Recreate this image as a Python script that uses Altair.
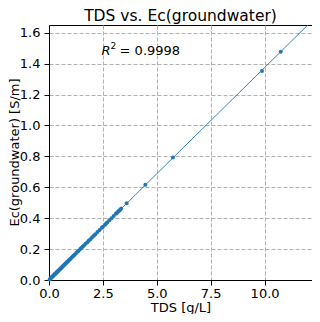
import altair as alt
import pandas as pd

# TDS [g/L] and Ec(groundwater) [S/m]
tds = [0.03, 0.05, 0.08, 0.10, 0.12, 0.15, 0.18, 0.20, 0.22, 0.25, 0.28, 0.30,
       0.33, 0.35, 0.38, 0.40, 0.42, 0.45, 0.48, 0.50, 0.53, 0.55, 0.58, 0.60,
       0.63, 0.66, 0.70, 0.73, 0.76, 0.80, 0.84, 0.88, 0.92, 0.96, 1.00, 1.05,
       1.10, 1.15, 1.20, 1.26, 1.32, 1.38, 1.45, 1.50, 1.56, 1.62, 1.70, 1.78,
       1.85, 1.92, 2.00, 2.08, 2.15, 2.25, 2.35, 2.45, 2.50, 2.60, 2.65, 2.70,
       2.80, 2.90, 3.00, 3.10, 3.15, 3.20, 3.25, 3.30, 3.35, 3.60, 4.47, 5.75,
       9.88, 10.75]
ec = [0.004, 0.007, 0.011, 0.014, 0.017, 0.021, 0.025, 0.028, 0.030, 0.035, 0.039, 0.041,
      0.046, 0.048, 0.053, 0.055, 0.058, 0.062, 0.066, 0.069, 0.073, 0.076, 0.080, 0.083,
      0.087, 0.091, 0.097, 0.101, 0.105, 0.110, 0.116, 0.121, 0.127, 0.132, 0.138, 0.145,
      0.152, 0.158, 0.165, 0.174, 0.182, 0.190, 0.200, 0.207, 0.215, 0.223, 0.234, 0.245,
      0.255, 0.264, 0.276, 0.287, 0.296, 0.310, 0.324, 0.338, 0.345, 0.358, 0.366, 0.372,
      0.386, 0.400, 0.414, 0.428, 0.434, 0.442, 0.448, 0.455, 0.462, 0.497, 0.617, 0.793,
      1.352, 1.477]

x_ticks = [0, 2.5, 5, 7.5, 10]
y_ticks = [0, 0.2, 0.4, 0.6, 0.8, 1.0, 1.2, 1.4, 1.6]
x_domain = [0, 12.2]
y_domain = [0, 1.65]
r2_text = "= 0.9998"
ann_x = [2.44]
ann_y = [1.48]

df = pd.DataFrame({"tds": tds, "ec": ec})
ann = pd.DataFrame({"x": ann_x, "y": ann_y})

FONT = "DejaVu Sans"
BLUE = "#1f77b4"

xs = alt.Scale(domain=x_domain, nice=False, zero=False)
ys = alt.Scale(domain=y_domain, nice=False, zero=False)

axis_common = dict(
    grid=True, gridDash=[4, 2], gridColor="#b0b0b0", gridWidth=1,
    domainColor="black", domainWidth=1,
    tickColor="black", tickSize=5, tickWidth=1,
    labelFont=FONT, labelFontSize=13, labelColor="black",
    titleFont=FONT, titleFontSize=13, titleColor="black", titleFontWeight="normal",
    format=".1f", labelOverlap=False, labelFlush=False,
)

xax = alt.Axis(title="TDS [g/L]", values=x_ticks, titleBaseline="alphabetic",
               titleY=31, labelPadding=2, **axis_common)
yax = alt.Axis(title="Ec(groundwater) [S/m]", values=y_ticks, titleBaseline="middle",
               titleAngle=270, titleX=-35, titleY=127, titleAlign="center",
               labelPadding=4, **axis_common)


def enc(xf, yf):
    return dict(x=alt.X(xf, scale=xs, axis=xax, title="TDS [g/L]"),
                y=alt.Y(yf, scale=ys, axis=yax, title="Ec(groundwater) [S/m]"))


points = alt.Chart(df).mark_circle(size=16, color=BLUE, opacity=1).encode(
    **enc("tds:Q", "ec:Q"))

line = alt.Chart(df).transform_regression(
    "tds", "ec", extent=x_domain
).mark_line(color=BLUE, strokeWidth=0.9, clip=True).encode(**enc("tds:Q", "ec:Q"))

r_label = alt.Chart(ann).mark_text(
    text="R", font=FONT, fontSize=13, fontStyle="italic", align="left",
    baseline="middle", color="black"
).encode(**enc("x:Q", "y:Q"))

sup_label = alt.Chart(ann).mark_text(
    text="2", font=FONT, fontSize=9, align="left", baseline="middle",
    dx=9, dy=-5, color="black"
).encode(**enc("x:Q", "y:Q"))

val_label = alt.Chart(ann).mark_text(
    text=r2_text, font=FONT, fontSize=13, align="left", baseline="middle",
    dx=18, color="black"
).encode(**enc("x:Q", "y:Q"))

chart = alt.layer(points, line, r_label, sup_label, val_label).properties(
    width=263, height=255,
    title=alt.Title("TDS vs. Ec(groundwater)", font=FONT, fontSize=15.5,
                    fontWeight="normal", color="black", offset=1),
    padding={"left": 41, "top": 17, "right": 0, "bottom": 34},
    autosize=alt.AutoSizeParams(type="none"),
).configure_view(stroke="black", strokeWidth=1)

chart.save("out.html", embed_options={"renderer": "svg", "actions": False})
